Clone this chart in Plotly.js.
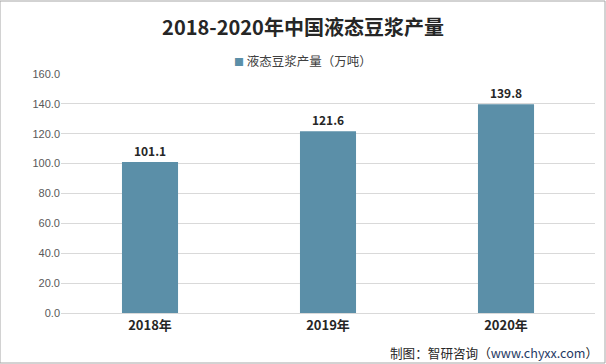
<!DOCTYPE html>
<html><head><meta charset="utf-8">
<script src="https://cdn.plot.ly/plotly-3.0.1.min.js"></script>
<style>html,body{margin:0;padding:0;background:#fff}#c{width:606px;height:364px}</style>
</head><body><div id="c"></div>
<script>
const categories = ['2018年','2019年','2020年'];
const values = [101.1, 121.6, 139.8];
const seriesName = '液态豆浆产量（万吨）';
const tickVals = [0,20,40,60,80,100,120,140,160];
const barColor = '#5b8fa8';

const trace = {
  type:'bar', x:categories, y:values, name:seriesName,
  marker:{color:barColor},
  text: values.map(v=>v.toFixed(1)), textposition:'outside',
  textfont:{family:'Noto Sans CJK SC, sans-serif', size:12, color:'#262626', weight:'bold'},
  cliponaxis:false, showlegend:false
};
const layout = {
  width:606, height:364,
  margin:{l:61,r:11,t:74,b:51},
  paper_bgcolor:'#fff', plot_bgcolor:'#fff',
  bargap:0.685,
  title:{text:'<b>2018-2020年中国液态豆浆产量</b>', x:0.5, xanchor:'center', y:0.923, yanchor:'middle',
    font:{family:'Noto Sans CJK SC, sans-serif', size:20, color:'#262626'}},
  showlegend:false,
  xaxis:{type:'category', showgrid:false, showline:true, linecolor:'#d9d9d9', linewidth:1,
    ticks:'', tickfont:{family:'Noto Sans CJK SC, sans-serif', size:13, color:'#262626', weight:'bold'}},
  yaxis:{range:[0,160], tickvals:tickVals, ticktext:tickVals.map(v=>v.toFixed(1)),
    showgrid:true, gridcolor:'#d9d9d9', zeroline:false, showline:false, ticks:'', ticklen:0,
    tickfont:{family:'Liberation Sans, Arial, sans-serif', size:11, color:'#595959'}},
  shapes:[{type:'rect', xref:'paper', yref:'paper', x0:-61/534, x1:1+10/534, y0:-50/239, y1:1+73/239,
    line:{color:'#a6a6a6', width:1}, fillcolor:'rgba(0,0,0,0)'}],
  annotations:[
    {text:'<span style="color:'+barColor+'; font-size:10px">■</span> '+seriesName, xref:'paper', yref:'paper',
      x:(303-61)/534, xanchor:'center', y:1+13/239, yanchor:'middle', showarrow:false,
      font:{family:'Noto Sans CJK SC, sans-serif', size:12.5, color:'#404040'}},
    {text:'制图：智研咨询（<span style="color:#1f3a64">www.chyxx.com</span>）', xref:'paper', yref:'paper',
      x:1+5/534, xanchor:'right', y:-39/239, yanchor:'middle', showarrow:false,
      font:{family:'Noto Sans CJK SC, sans-serif', size:12.6, color:'#262626'}}]
};
Plotly.newPlot('c',[trace],layout,{displayModeBar:false,staticPlot:true});
</script></body></html>
